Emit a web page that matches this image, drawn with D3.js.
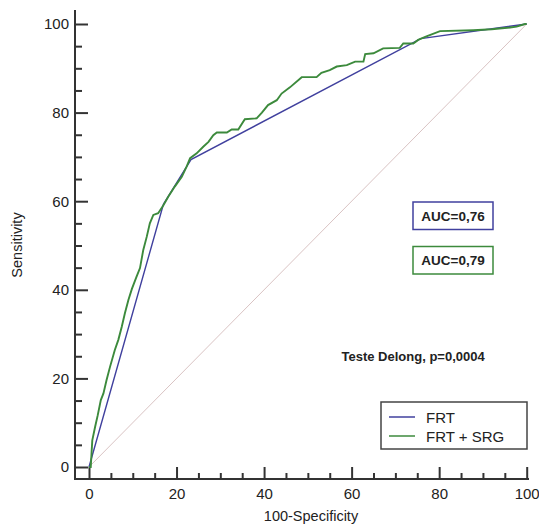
<!DOCTYPE html>
<html>
<head>
<meta charset="utf-8">
<script src="https://cdn.jsdelivr.net/npm/d3@7/dist/d3.min.js"></script>
<style>
  html, body { margin: 0; padding: 0; background: #fff; }
  svg { display: block; font-family: "Liberation Sans", Arial, sans-serif; }
</style>
</head>
<body>
<svg id="chart" width="539" height="524"></svg>
<script>
// ---- data ----
const majorTicks = [0, 20, 40, 60, 80, 100];
const minorTicks = [5, 10, 15, 25, 30, 35, 45, 50, 55, 65, 70, 75, 85, 90, 95];

const frtFpr = [0, 17.0, 23.3, 75.8, 100];
const frtTpr = [0, 59.3, 69.4, 96.7, 100];

const srgFpr = [0, 0.4, 0.75, 1.4, 2.0, 2.7, 3.3, 4.0, 4.8, 5.9, 6.7, 7.5, 8.2, 9.0, 9.8, 10.8, 11.65, 12.4, 13.2, 13.9, 14.7, 15.8, 17.0, 18.1, 19.6, 21.2, 22.3, 23.1, 24.6, 26.1, 27.3, 28.4, 29.2, 31.5, 32.6, 34.1, 35.6, 38.3, 39.5, 40.9, 42.9, 44.0, 45.9, 48.6, 52.0, 53.1, 55.0, 56.6, 58.9, 60.8, 62.7, 63.1, 65.0, 67.2, 71.0, 71.8, 74.1, 75.2, 77.1, 80.2, 87.8, 92.0, 96.2, 97.7, 99.6, 100];
const srgTpr = [0, 0, 6.0, 9.1, 11.7, 15.1, 16.6, 19.6, 22.6, 26.4, 28.7, 31.7, 34.7, 37.7, 40.2, 42.8, 44.9, 49.0, 52.0, 55.0, 56.9, 57.3, 59.1, 61.0, 63.3, 65.5, 67.8, 69.7, 70.8, 72.3, 73.4, 74.9, 75.5, 75.5, 76.2, 76.2, 78.5, 78.7, 80.0, 81.7, 82.8, 84.3, 85.7, 88.0, 88.0, 89.0, 89.6, 90.4, 90.7, 91.5, 91.5, 93.2, 93.4, 94.5, 94.6, 95.6, 95.6, 96.4, 97.2, 98.4, 98.6, 98.8, 99.2, 99.4, 100, 100];

const seriesNames = ["FRT", "FRT + SRG"];
const aucLabels = ["AUC=0,76", "AUC=0,79"];
const testLabel = "Teste Delong, p=0,0004";
const xTitle = "100-Specificity";
const yTitle = "Sensitivity";

// ---- styles ----
const blue = "#40409e";
const green = "#3c8a3c";
const axisColor = "#333333";

const svg = d3.select("#chart");
const x = d3.scaleLinear().domain([0, 100]).range([89, 526.7]);
const y = d3.scaleLinear().domain([0, 100]).range([467, 24]);

const axisX = 75, axisY = 479;

// axis lines
svg.append("line").attr("x1", axisX).attr("x2", axisX).attr("y1", 10).attr("y2", axisY + 1)
  .attr("stroke", axisColor).attr("stroke-width", 2);
svg.append("line").attr("x1", axisX - 1).attr("x2", 529).attr("y1", axisY).attr("y2", axisY)
  .attr("stroke", axisColor).attr("stroke-width", 2);

// y axis
const gy = svg.append("g").attr("transform", `translate(${axisX},0)`)
  .call(d3.axisLeft(y).tickValues(majorTicks).tickSize(-13).tickPadding(6));
const gyMinor = svg.append("g").attr("transform", `translate(${axisX},0)`)
  .call(d3.axisLeft(y).tickValues(minorTicks).tickSize(-7).tickFormat(""));
// x axis
const gx = svg.append("g").attr("transform", `translate(0,${axisY})`)
  .call(d3.axisBottom(x).tickValues(majorTicks).tickSize(-12).tickPadding(9));
const gxMinor = svg.append("g").attr("transform", `translate(0,${axisY})`)
  .call(d3.axisBottom(x).tickValues(minorTicks).tickSize(-6).tickFormat(""));

[gy, gyMinor, gx, gxMinor].forEach(g => {
  g.select(".domain").remove();
  g.selectAll(".tick line").attr("stroke", axisColor).attr("stroke-width", 2);
  g.selectAll(".tick text").attr("fill", "#222").style("font-size", "15px")
    .style("font-family", '"Liberation Sans", Arial, sans-serif');
});

// axis titles
svg.append("text").attr("x", 311).attr("y", 521).attr("text-anchor", "middle")
  .style("font-size", "14.5px").attr("fill", "#222").text(xTitle);
svg.append("text").attr("transform", `translate(22,245) rotate(-90)`).attr("text-anchor", "middle")
  .style("font-size", "14.5px").attr("fill", "#222").text(yTitle);

// diagonal
svg.append("line").attr("x1", x(0)).attr("y1", y(0)).attr("x2", x(100)).attr("y2", y(100))
  .attr("stroke", "#d9c3c3").attr("stroke-width", 1);

const line = d3.line().x(d => x(d[0])).y(d => y(d[1]));

// FRT
svg.append("path").datum(frtFpr.map((v, i) => [v, frtTpr[i]]))
  .attr("d", line).attr("fill", "none").attr("stroke", blue).attr("stroke-width", 1.4);
// FRT + SRG
svg.append("path").datum(srgFpr.map((v, i) => [v, srgTpr[i]]))
  .attr("d", line).attr("fill", "none").attr("stroke", green).attr("stroke-width", 1.9)
  .attr("stroke-linejoin", "miter");

// AUC boxes
const aucBoxes = [{ y: 202, color: blue }, { y: 246.5, color: green }];
aucBoxes.forEach((b, i) => {
  svg.append("rect").attr("x", 413).attr("y", b.y).attr("width", 80).attr("height", 27.5)
    .attr("fill", "#fff").attr("stroke", b.color).attr("stroke-width", 1.5);
  svg.append("text").attr("x", 453).attr("y", b.y + 18.5).attr("text-anchor", "middle")
    .style("font-size", "13.5px").style("font-weight", "bold").attr("fill", "#222").text(aucLabels[i]);
});

// Delong text
svg.append("text").attr("x", 341.5).attr("y", 361).style("font-size", "13px")
  .style("font-weight", "bold").attr("fill", "#222").text(testLabel);

// legend
svg.append("rect").attr("x", 381).attr("y", 402).attr("width", 146).attr("height", 47)
  .attr("fill", "#fff").attr("stroke", "#444").attr("stroke-width", 1.5);
const legColors = [blue, green];
seriesNames.forEach((n, i) => {
  const ly = 417 + i * 19;
  svg.append("line").attr("x1", 389).attr("x2", 415).attr("y1", ly).attr("y2", ly)
    .attr("stroke", legColors[i]).attr("stroke-width", 1.5);
  svg.append("text").attr("x", 426).attr("y", ly + 5.5).style("font-size", "15px")
    .attr("fill", "#222").text(n);
});
</script>
</body>
</html>
